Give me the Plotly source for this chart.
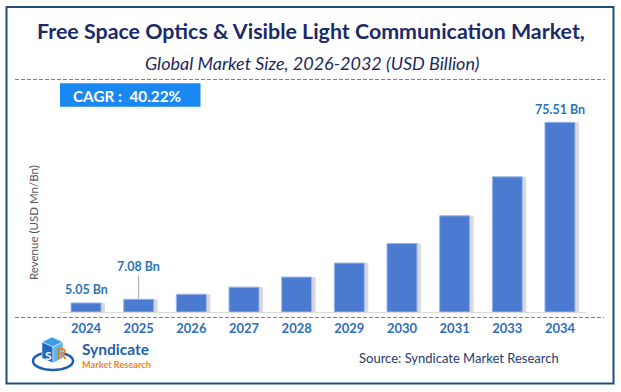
import plotly.graph_objects as go

years = ["2024", "2025", "2026", "2027", "2028", "2029", "2030", "2031", "2033", "2034"]
values = [3.60, 5.05, 7.08, 9.90, 13.90, 19.50, 27.30, 38.30, 53.80, 75.51]
label_years = ["2024", "2025", "2034"]
label_values = [3.60, 5.05, 75.51]
label_texts = ["5.05 Bn", "7.08 Bn", "75.51 Bn"]

W, H = 621, 392
FONT = "Lato"
BAR = "#4a7bd1"

fig = go.Figure()
# shadow
fig.add_trace(go.Bar(x=years, y=values, width=0.57, offset=-0.285 + 0.075,
                     marker=dict(color="rgba(80,80,80,0.22)", line=dict(width=0)),
                     hoverinfo="skip", showlegend=False))
fig.add_trace(go.Bar(x=years, y=values, width=0.57, offset=-0.285,
                     marker=dict(color=BAR, line=dict(color="#9db7e8", width=1)),
                     showlegend=False))

x0d, x1d = 59.7 / W, 586.3 / W
ybase = 312.0
pxu = 189.7 / 75.51
ymax = 80
y0d = (H - ybase) / H
y1d = (H - (ybase - ymax * pxu)) / H

fig.update_layout(
    width=W, height=H, margin=dict(l=0, r=0, t=0, b=0, autoexpand=False),
    paper_bgcolor="white", plot_bgcolor="white",
    barmode="overlay",
    xaxis=dict(type="category", categoryorder="array", categoryarray=years,
               range=[-0.5, len(years) - 0.5], domain=[x0d, x1d],
               showline=True, linecolor="#d9d9d9", linewidth=1,
               showgrid=False, ticks="", ticklabelstandoff=4,
               tickfont=dict(family=FONT, size=13, color="#2e6db9", weight="bold")),
    yaxis=dict(domain=[y0d, y1d], range=[0, ymax], showgrid=False, showticklabels=False,
               zeroline=False, showline=False),
)

ann = []
for yr, v, t in zip(label_years, label_values, label_texts):
    xi = years.index(yr)
    if yr == "2025":
        ann.append(dict(x=xi, y=v, xref="x", yref="y", text=t, showarrow=True,
                        arrowhead=0, arrowwidth=1, arrowcolor="#a6a6a6", ax=0, ay=-33,
                        standoff=0,
                        font=dict(family=FONT, size=12.5, color="#2e75b6", weight="bold")))
    else:
        ann.append(dict(x=xi, y=v, xref="x", yref="y", text=t, showarrow=False,
                        xanchor="center", yanchor="middle", yshift=13,
                        font=dict(family=FONT, size=12.5, color="#2e75b6", weight="bold")))

def px(x): return x / W
def py(y): return 1 - y / H

def txt(x, y, text, size, color, bold=False, xanchor="center", angle=0):
    return dict(x=px(x), y=py(y), xref="paper", yref="paper", showarrow=False,
                xanchor=xanchor, yanchor="middle", textangle=angle, text=text,
                font=dict(family=FONT, size=size, color=color,
                          weight="bold" if bold else "normal"))

ann += [
    txt(311, 31, "Free Space Optics & Visible Light Communication Market,", 21.4, "#1b2a6b", True),
    txt(312, 63, "<i>Global Market Size, 2026-2032 (USD Billion)</i>", 18, "#1b2a5e"),
    txt(127, 95.5, "CAGR :  40.22%", 15.3, "white", True),
    txt(33, 223, "Revenue (USD Mn/Bn)", 11.5, "#595959", angle=-90),
    txt(459, 358, "Source: Syndicate Market Research", 13, "#1f3b70"),
    txt(80, 349, "Syndicate", 15.5, "#1f5fb0", True, xanchor="left"),
    txt(80, 364, "Market Research", 9.2, "#f0851c", True, xanchor="left"),
    txt(48, 355, "S", 12, "white", True),
    txt(62, 353, "R", 15, "#f0851c", True),
]
fig.update_layout(annotations=ann)

DASH = "4px,2px"
shapes = [
    dict(type="rect", xref="paper", yref="paper", x0=px(6.5), x1=px(613.5), y0=py(383.5), y1=py(7),
         line=dict(color="#1f4e79", width=2)),
    dict(type="line", xref="paper", yref="paper", x0=px(15), x1=px(605), y0=py(79.5), y1=py(79.5),
         line=dict(color="#5585cc", width=1, dash=DASH)),
    dict(type="line", xref="paper", yref="paper", x0=px(15), x1=px(604), y0=py(317.5), y1=py(317.5),
         line=dict(color="#5585cc", width=1, dash=DASH)),
    dict(type="rect", xref="paper", yref="paper", x0=px(60), x1=px(200.5), y0=py(106.7), y1=py(83.3),
         fillcolor="#1a88f2", line=dict(width=0), layer="below"),
    # logo ring
    dict(type="circle", xref="paper", yref="paper", x0=px(33), x1=px(73), y0=py(370), y1=py(352),
         line=dict(color="#1f5fb0", width=2.5)),
    # cube faces
    dict(type="path", xref="paper", yref="paper",
         path=f"M {px(42)},{py(342)} L {px(52)},{py(337)} L {px(63)},{py(342)} L {px(53)},{py(347)} Z",
         fillcolor="#3d9ee8", line=dict(color="white", width=0.5)),
    dict(type="path", xref="paper", yref="paper",
         path=f"M {px(42)},{py(342)} L {px(53)},{py(347)} L {px(53)},{py(363)} L {px(42)},{py(358)} Z",
         fillcolor="#1f68c0", line=dict(color="white", width=0.5)),
    dict(type="path", xref="paper", yref="paper",
         path=f"M {px(53)},{py(347)} L {px(63)},{py(342)} L {px(63)},{py(358)} L {px(53)},{py(363)} Z",
         fillcolor="#5fb4ee", line=dict(color="white", width=0.5)),
]
fig.update_layout(shapes=shapes)

fig.write_html("out.html", config={"displayModeBar": False},
               post_script="document.body.style.margin='0';")
